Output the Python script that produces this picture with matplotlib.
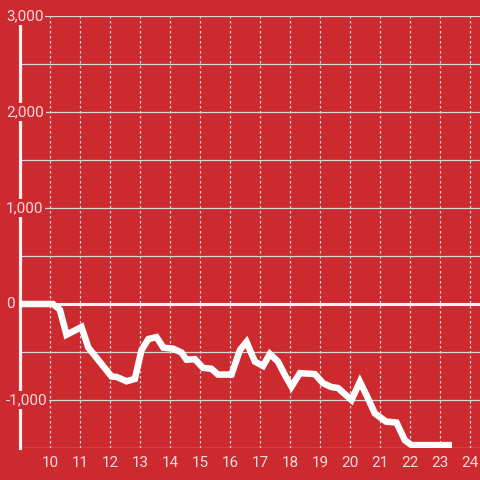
import matplotlib
matplotlib.use("Agg")
import matplotlib.pyplot as plt

hours = [9.0, 10.1, 10.33, 10.55, 11.05, 11.28, 12.05, 12.22, 12.55, 12.83, 13.05, 13.28,
         13.55, 13.78, 14.1, 14.38, 14.55, 14.83, 15.1, 15.38, 15.6, 16.05, 16.33, 16.55,
         16.83, 17.1, 17.33, 17.6, 17.83, 18.05, 18.33, 18.83, 19.1, 19.38, 19.6, 20.05,
         20.33, 20.55, 20.83, 21.2, 21.55, 21.83, 22.05, 23.4]
values = [0, 0, -60, -320, -240, -455, -755, -760, -805, -780, -480, -365,
          -345, -455, -465, -505, -580, -575, -665, -675, -735, -735, -480, -395,
          -600, -645, -520, -600, -740, -860, -720, -730, -825, -865, -875, -1000,
          -810, -950, -1140, -1225, -1235, -1420, -1470, -1470]

x_ticks = list(range(10, 25))
y_grid = [-1500, -1000, -500, 0, 500, 1000, 1500, 2000, 2500, 3000]
y_labels = {3000: "3,000", 2000: "2,000", 1000: "1,000", 0: "0", -1000: "-1,000"}

BG = "#cc2a2f"
LABEL = "#f6dada"
GRID = "#d8d8d8"

plt.rcParams['font.family'] = ['Roboto', 'DejaVu Sans']

fig = plt.figure(figsize=(4.8, 4.8), dpi=100, facecolor=BG)
ax = fig.add_axes([20/480, 32/480, 460/480, 432/480])
ax.set_facecolor(BG)
ax.set_xlim(9.0, 24 + 1/3)
ax.set_ylim(-1500, 3000)

for s in ['top', 'right', 'bottom']:
    ax.spines[s].set_visible(False)
ax.spines['left'].set_color('#f2f2f2')
ax.spines['left'].set_linewidth(2.3)
ax.spines['left'].set_zorder(2.5)

for g in y_grid:
    if g == 0:
        continue
    ax.axhline(g, color=GRID, lw=0.9, zorder=1)
ax.axhline(0, color='#f4f4f4', lw=2.2, zorder=2)
for t in x_ticks:
    ax.axvline(t, color=GRID, lw=0.9, linestyle=(0, (2, 2)), zorder=1)

ax.plot(hours, values, color='white', lw=4.7, solid_capstyle='butt',
        solid_joinstyle='miter', zorder=4)

ax.set_xticks(x_ticks)
ax.set_xticklabels([str(t) for t in x_ticks])
ax.tick_params(axis='x', length=0, pad=6, labelsize=11, labelcolor=LABEL)
ax.set_yticks([])

for v, lab in y_labels.items():
    ax.text(9.0 - 14/30, v, lab, ha='left', va='center', fontsize=11, color=LABEL,
            zorder=5, clip_on=False,
            bbox=dict(boxstyle='square,pad=0.12', facecolor=BG, edgecolor='none'))

fig.savefig("out.png", dpi=100, facecolor=BG)
